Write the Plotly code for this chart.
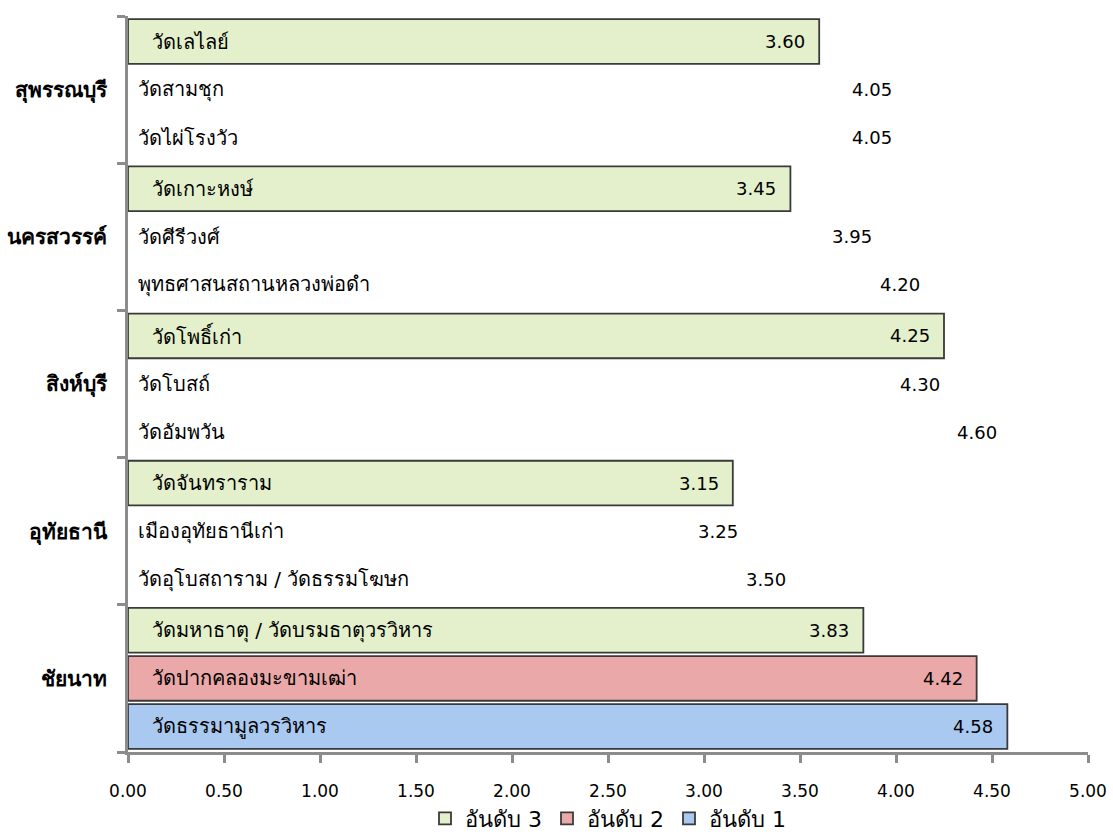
import plotly.graph_objects as go

# Provinces from bottom to top of the chart
provinces = ["ชัยนาท", "อุทัยธานี", "สิงห์บุรี", "นครสวรรค์", "สุพรรณบุรี"]

# Temple names and scores for each rank, same province order
rank1_names = ["วัดธรรมามูลวรวิหาร", "วัดอุโบสถาราม / วัดธรรมโฆษก", "วัดอัมพวัน",
               "พุทธศาสนสถานหลวงพ่อดำ", "วัดไผ่โรงวัว"]
rank1_values = [4.58, 3.50, 4.60, 4.20, 4.05]

rank2_names = ["วัดปากคลองมะขามเฒ่า", "เมืองอุทัยธานีเก่า", "วัดโบสถ์",
               "วัดศีรีวงศ์", "วัดสามชุก"]
rank2_values = [4.42, 3.25, 4.30, 3.95, 4.05]

rank3_names = ["วัดมหาธาตุ / วัดบรมธาตุวรวิหาร", "วัดจันทราราม", "วัดโพธิ์เก่า",
               "วัดเกาะหงษ์", "วัดเลไลย์"]
rank3_values = [3.83, 3.15, 4.25, 3.45, 3.60]

# Only Chainat shows filled bars for ranks 1 and 2
rank1_shown = [True, False, False, False, False]
rank2_shown = [True, False, False, False, False]

x_ticks = [0, 0.5, 1.0, 1.5, 2.0, 2.5, 3.0, 3.5, 4.0, 4.5, 5.0]

FONT = "Tahoma, DejaVu Sans, sans-serif"
OUTLINE = "#3a3a3a"
NUM = 18      # numbers
NAME = 20     # temple names
PROV = 21     # province labels

series = [
    ("อันดับ 1", rank1_names, rank1_values, "#A9C9F0", rank1_shown),
    ("อันดับ 2", rank2_names, rank2_values, "#EAA8A8", rank2_shown),
    ("อันดับ 3", rank3_names, rank3_values, "#E3F0CB", [True] * 5),
]

fig = go.Figure()
for name, labels, values, color, shown in series:
    fills = [color if s else "rgba(255,255,255,0)" for s in shown]
    lines = [OUTLINE if s else "rgba(255,255,255,0)" for s in shown]
    fig.add_trace(go.Bar(
        y=provinces, x=values, orientation="h", name=name,
        marker=dict(color=fills, line=dict(color=lines, width=1.8)),
        customdata=labels,
        hovertemplate="%{customdata}: %{x:.2f}<extra>" + name + "</extra>",
    ))

fig.update_layout(
    barmode="group", bargap=0.02, bargroupgap=0.07,
    width=1113, height=837,
    margin=dict(l=128, r=25, t=16, b=85, autoexpand=False),
    plot_bgcolor="white", paper_bgcolor="white",
    font=dict(family=FONT, size=NUM, color="#000000"),
    showlegend=True,
    legend=dict(orientation="h", traceorder="reversed",
                x=0.5, xanchor="center", y=-0.062, yanchor="top",
                itemwidth=30, tracegroupgap=0,
                font=dict(family=FONT, size=22)),
)

fig.update_xaxes(
    range=[0, 5], tickvals=x_ticks, ticktext=[f"{t:.2f}" for t in x_ticks],
    showgrid=False, zeroline=False,
    showline=True, linecolor="#8c8c8c", linewidth=3,
    ticks="outside", ticklen=8, tickwidth=3, tickcolor="#8c8c8c",
    tickfont=dict(family=FONT, size=17), ticklabelstandoff=14,
)
fig.update_yaxes(
    type="category", categoryorder="array", categoryarray=provinces,
    showgrid=False, showline=True, linecolor="#8c8c8c", linewidth=3,
    ticks="outside", tickson="boundaries", ticklen=8, tickwidth=3,
    tickcolor="#8c8c8c",
    tickfont=dict(family=FONT, size=PROV, weight="bold"), ticklabelstandoff=14,
)

# Temple names at the base of each bar, scores at its end
offsets = {"อันดับ 1": -1, "อันดับ 2": 0, "อันดับ 3": 1}
slot = 0.98 / 3
for name, labels, values, color, shown in series:
    for i, lab in enumerate(labels):
        yy = i + offsets[name] * slot
        fig.add_annotation(
            x=0, y=yy, xref="x", yref="y",
            text=lab, showarrow=False, xanchor="left", yanchor="middle",
            xshift=22 if shown[i] else 8,
            font=dict(family=FONT, size=NAME, color="#000000"),
        )
        fig.add_annotation(
            x=values[i], y=yy, xref="x", yref="y",
            text=f"{values[i]:.2f}", showarrow=False,
            xanchor="right", yanchor="middle", xshift=-12,
            font=dict(family=FONT, size=NUM, color="#000000"),
        )

fig.write_html("out.html")
